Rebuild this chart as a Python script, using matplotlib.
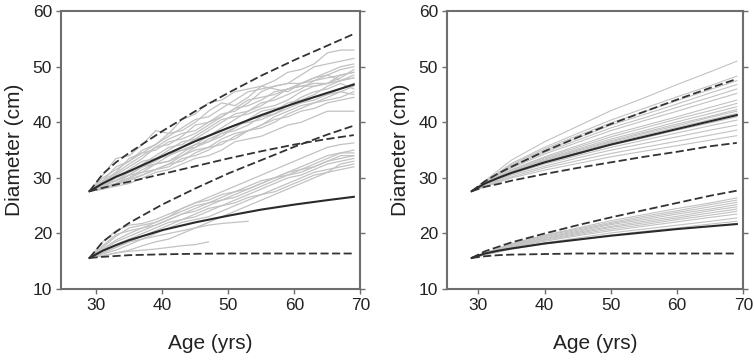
import numpy as np
import matplotlib
matplotlib.use("Agg")
import matplotlib.pyplot as plt

plt.rcParams['font.family'] = ['Liberation Sans', 'DejaVu Sans']

# ---- left panel: observed trajectories (jagged), ages every 2 yrs ----
ages_obs = [29, 31, 33, 35, 37, 39, 41, 43, 45, 47, 49, 51, 53, 55, 57, 59, 61, 63, 65, 67, 69]

upper_obs = [
    [27.6, 30.5, 33.5, 34.0, 36.0, 38.5, 38.0, 40.5, 41.5, 43.5, 44.0, 45.5, 46.0, 46.5, 47.5, 49.0, 49.5, 50.5, 52.5, 53.0, 53.0],
    [27.6, 29.5, 31.0, 33.5, 34.5, 36.0, 37.5, 39.0, 40.5, 41.0, 42.5, 44.0, 45.5, 46.0, 46.5, 47.0, 48.5, 50.0, 50.5, 51.0, 51.5],
    [27.6, 29.0, 30.5, 32.0, 33.5, 35.5, 36.0, 37.5, 39.5, 40.0, 41.5, 42.0, 43.5, 45.5, 46.5, 47.0, 47.0, 48.0, 49.0, 50.0, 50.5],
    [27.6, 28.5, 30.0, 31.5, 33.0, 33.5, 35.0, 36.5, 37.0, 38.5, 40.0, 41.5, 42.0, 43.0, 44.5, 46.0, 47.0, 47.5, 48.5, 49.5, 50.0],
    [27.6, 28.8, 29.5, 30.5, 32.0, 33.5, 34.0, 35.5, 37.0, 37.5, 39.0, 40.5, 42.0, 43.5, 44.0, 45.0, 46.0, 47.5, 48.0, 48.5, 49.0],
    [27.6, 29.0, 30.0, 31.0, 32.5, 34.0, 35.5, 36.0, 37.5, 39.0, 40.5, 41.0, 41.5, 42.5, 43.0, 44.0, 45.5, 46.5, 47.0, 47.5, 48.5],
    [27.6, 28.2, 29.0, 30.0, 31.5, 32.5, 33.0, 34.5, 36.0, 36.5, 37.5, 39.0, 40.5, 41.0, 42.0, 43.5, 44.0, 45.0, 46.5, 47.5, 48.0],
    [27.6, 28.5, 29.5, 31.0, 32.0, 32.5, 34.0, 35.0, 35.5, 36.5, 38.0, 38.5, 39.5, 41.0, 41.5, 42.5, 43.5, 44.0, 45.0, 46.0, 47.0],
    [27.6, 28.0, 28.8, 29.5, 30.5, 31.5, 32.5, 33.0, 34.5, 35.5, 36.0, 37.5, 38.5, 39.0, 40.0, 41.5, 42.5, 43.5, 44.0, 44.5, 45.5],
    [27.6, 28.3, 29.0, 30.0, 31.0, 31.5, 32.5, 34.0, 35.0, 35.5, 37.0, 38.0, 38.5, 39.5, 40.5, 41.0, 42.0, 42.5, 43.5, 44.0, 44.5],
    [27.6, 28.0, 28.5, 29.0, 30.0, 31.0, 31.5, 32.5, 33.5, 34.0, 35.0, 36.5, 37.0, 37.5, 38.5, 39.5, 40.0, 41.0, 42.0, 42.0, 42.0],
    [27.6, 29.5, 32.0, 33.0, 34.5, 35.0, 36.5, 37.0, 38.0, 39.5, 41.0, 42.5, 43.0, 44.0, 45.5, 46.0, 46.5, 47.0, 47.0, 48.0, 49.5],
    [27.6, 28.5, 29.5, 30.5, 31.0, 32.5, 33.0, 34.0, 35.5, 37.0, 38.0, 39.0, 40.5, 42.0, 42.5, 43.0, 44.5, 45.5, 46.0, 47.0, 46.0],
    [27.6, 28.0, 29.0, 30.5, 32.0, 33.0, 34.5, 35.0, 36.0, 37.5, 38.5, 39.5, 40.0, 40.5, 41.5, 43.0, 43.5, 44.5, 45.0, 45.5, 45.0],
    [27.6, 30.0, 31.5, 33.0, 35.0, 36.0, 38.0, 38.5, 40.0, 42.0, 43.5, 43.0, 44.5, 46.5, 46.0, 45.5, 47.0, 48.0, 48.5, 47.5, 48.0],
    [27.6, 28.2, 28.8, 29.8, 30.5, 31.5, 32.0, 33.5, 34.0, 35.0, 36.5, 37.0, 38.5, 39.5, 41.0, 42.0, 43.0, 43.5, 44.5, 45.5, 46.5],
    [27.6, 29.2, 30.8, 32.5, 34.0, 35.5, 37.0, 38.0, 38.5, 40.0, 41.0, 42.5, 44.0, 44.5, 45.0, 46.0, 46.5, 46.5, 47.0, 48.5, 49.0],
]

nan = np.nan
lower_obs = [
    [15.6, 18.5, 20.5, 21.5, 21.8, 22.5, 23.5, 24.5, 25.5, 26.0, 27.0, 27.5, 28.0, 29.0, 30.0, 30.5, 31.5, 32.5, 33.5, 34.5, 35.0],
    [15.6, 17.5, 19.5, 21.0, 21.5, 22.0, 23.0, 24.0, 25.0, 25.5, 26.5, 27.5, 28.5, 29.5, 30.0, 31.0, 32.0, 33.0, 34.0, 34.5, 34.5],
    [15.6, 17.0, 18.5, 19.5, 20.5, 21.5, 22.5, 23.5, 24.0, 25.0, 26.0, 26.5, 27.5, 28.5, 29.5, 30.5, 31.0, 32.0, 33.0, 34.0, 34.0],
    [15.6, 16.5, 17.5, 18.5, 19.5, 20.5, 21.5, 22.5, 23.5, 24.5, 25.0, 26.0, 27.0, 28.0, 29.0, 30.0, 30.5, 31.5, 32.5, 33.0, 33.5],
    [15.6, 16.8, 18.0, 19.0, 20.0, 21.0, 22.0, 22.5, 23.0, 24.0, 25.0, 25.5, 26.5, 27.0, 28.0, 29.0, 30.0, 31.0, 31.5, 32.0, 32.5],
    [15.6, 16.3, 17.0, 18.0, 19.0, 20.0, 21.0, 22.0, 22.5, 23.0, 24.0, 25.0, 26.0, 27.0, 27.5, 28.5, 29.5, 30.5, 31.0, 31.5, 32.0],
    [15.6, 17.2, 18.8, 20.0, 21.0, 22.0, 23.0, 24.5, 25.5, 26.5, 27.5, 28.5, 29.5, 30.5, 31.5, 32.5, 33.5, 34.5, 35.5, 36.0, 36.3],
    [15.6, 16.0, 16.5, 17.0, 17.8, 18.5, 19.0, 20.0, 21.0, 22.0, 23.0, 24.0, 25.0, 26.0, 27.0, 28.0, 29.0, 30.0, 31.0, 32.5, 33.0],
    [15.6, 16.0, 16.5, 16.8, 17.0, 17.2, 17.5, 17.8, 18.0, 18.5, nan, nan, nan, nan, nan, nan, nan, nan, nan, nan, nan],
    [15.6, 16.5, 17.5, 18.5, 19.0, 19.5, 20.0, 20.5, 21.0, 21.5, 21.8, 22.0, 22.2, nan, nan, nan, nan, nan, nan, nan, nan],
    [15.6, 17.8, 19.8, 20.5, 21.0, 21.5, 22.5, 23.5, 24.5, 25.5, 26.0, 27.0, 28.0, 29.0, 30.0, 31.0, 31.5, 32.0, 33.0, 33.5, 34.0],
]

# ---- model curves (mean and bounds) ----
ages_fit = [29, 31, 33, 35, 40, 45, 50, 55, 60, 65, 69]

left_up_mean = [27.6, 29.0, 30.2, 31.2, 33.9, 36.6, 39.0, 41.3, 43.4, 45.3, 46.8]
left_up_hi = [27.6, 30.7, 32.8, 34.5, 38.4, 42.0, 45.3, 48.4, 51.2, 53.8, 55.9]
left_up_lo = [27.6, 28.2, 28.8, 29.3, 30.7, 32.1, 33.5, 34.8, 36.0, 37.0, 37.7]
left_lo_mean = [15.6, 16.9, 17.9, 18.8, 20.6, 22.0, 23.2, 24.3, 25.2, 26.0, 26.6]
left_lo_hi = [15.6, 18.5, 20.3, 21.9, 25.2, 28.1, 30.8, 33.2, 35.6, 37.8, 39.4]
left_lo_lo = [15.6, 15.8, 15.95, 16.1, 16.25, 16.35, 16.4, 16.4, 16.4, 16.4, 16.4]

right_up_mean = [27.6, 29.0, 30.0, 30.9, 32.8, 34.4, 36.0, 37.4, 38.8, 40.2, 41.3]
right_up_hi = [27.6, 29.4, 30.8, 32.0, 34.8, 37.3, 39.7, 41.9, 44.1, 46.2, 47.8]
right_up_lo = [27.6, 28.4, 28.9, 29.5, 30.7, 31.8, 32.8, 33.8, 34.7, 35.7, 36.3]
right_lo_mean = [15.6, 16.4, 16.9, 17.3, 18.2, 18.9, 19.6, 20.2, 20.8, 21.3, 21.7]
right_lo_hi = [15.6, 16.8, 17.6, 18.4, 20.0, 21.5, 22.9, 24.2, 25.5, 26.8, 27.7]
right_lo_lo = [15.6, 15.9, 16.1, 16.2, 16.3, 16.4, 16.4, 16.4, 16.4, 16.4, 16.4]

# ---- right panel: simulated trajectories (smooth) ----
ages_sim = [29, 35, 40, 45, 50, 55, 60, 65, 69]

upper_sim = [
    [27.6, 33.2, 36.5, 39.3, 42.1, 44.4, 46.8, 49.1, 51.0],
    [27.6, 32.6, 35.5, 38.0, 40.4, 42.5, 44.6, 46.6, 48.3],
    [27.6, 32.4, 35.2, 37.6, 39.9, 41.9, 43.9, 45.9, 47.5],
    [27.6, 32.2, 34.9, 37.2, 39.5, 41.4, 43.3, 45.3, 46.8],
    [27.6, 32.0, 34.6, 36.8, 39.0, 40.8, 42.7, 44.5, 46.0],
    [27.6, 31.8, 34.3, 36.4, 38.5, 40.3, 42.0, 43.8, 45.2],
    [27.6, 31.5, 33.8, 35.8, 37.8, 39.4, 41.0, 42.7, 44.0],
    [27.6, 31.4, 33.6, 35.5, 37.4, 39.0, 40.6, 42.1, 43.4],
    [27.6, 31.2, 33.4, 35.2, 37.0, 38.5, 40.1, 41.6, 42.8],
    [27.6, 31.1, 33.2, 35.0, 36.7, 38.2, 39.7, 41.1, 42.3],
    [27.6, 31.1, 33.1, 34.8, 36.5, 38.0, 39.4, 40.9, 42.0],
    [27.6, 31.0, 32.9, 34.6, 36.3, 37.7, 39.1, 40.5, 41.6],
    [27.6, 30.8, 32.7, 34.3, 35.9, 37.2, 38.6, 39.9, 41.0],
    [27.6, 30.7, 32.5, 34.0, 35.5, 36.8, 38.1, 39.4, 40.4],
    [27.6, 30.5, 32.1, 33.6, 35.0, 36.2, 37.4, 38.6, 39.5],
    [27.6, 30.2, 31.8, 33.1, 34.4, 35.5, 36.6, 37.7, 38.6],
    [27.6, 30.0, 31.4, 32.6, 33.8, 34.8, 35.8, 36.8, 37.6],
]

lower_sim = [
    [15.6, 18.2, 19.7, 21.0, 22.3, 23.4, 24.5, 25.5, 26.4],
    [15.6, 18.1, 19.6, 20.8, 22.0, 23.1, 24.1, 25.2, 26.0],
    [15.6, 18.0, 19.4, 20.6, 21.8, 22.8, 23.8, 24.8, 25.6],
    [15.6, 17.9, 19.2, 20.4, 21.6, 22.5, 23.5, 24.4, 25.2],
    [15.6, 17.8, 19.1, 20.2, 21.3, 22.2, 23.1, 24.1, 24.8],
    [15.6, 17.7, 18.9, 20.0, 21.1, 21.9, 22.8, 23.7, 24.4],
    [15.6, 17.6, 18.8, 19.8, 20.8, 21.6, 22.5, 23.3, 24.0],
    [15.6, 17.5, 18.6, 19.6, 20.5, 21.3, 22.1, 22.9, 23.5],
    [15.6, 17.3, 18.3, 19.2, 20.1, 20.8, 21.5, 22.2, 22.8],
    [15.6, 17.2, 18.1, 18.9, 19.7, 20.4, 21.0, 21.7, 22.2],
]

gray = '#c2c2c2'
dark = '#2a2a2a'
spine_col = '#6e6e6e'
dash = (4.5, 1.9)

fig = plt.figure(figsize=(7.54, 3.60), dpi=100)
ax1 = fig.add_axes([0.081, 0.197, 0.397, 0.772])
ax2 = fig.add_axes([0.593, 0.197, 0.393, 0.772])


def draw_panel(ax, ages, obs_sets, lw_obs, curves, xlim):
    for group in obs_sets:
        for y in group:
            ax.plot(ages, y, color=gray, lw=lw_obs, zorder=1)
    for mean, hi, lo in curves:
        ax.plot(ages_fit, mean, color=dark, lw=1.5, zorder=3)
        ax.plot(ages_fit, hi, color='#333333', lw=1.3, dashes=dash, zorder=3)
        ax.plot(ages_fit, lo, color='#333333', lw=1.3, dashes=dash, zorder=3)

    ax.set_xlim(*xlim)
    ax.set_ylim(10, 60)
    ax.set_xticks([30, 40, 50, 60, 70])
    ax.set_yticks([10, 20, 30, 40, 50, 60])
    for s in ax.spines.values():
        s.set_color(spine_col)
        s.set_linewidth(1.5)
    ax.tick_params(direction='out', length=3.5, width=1, color=spine_col,
                   labelsize=12.5, labelcolor='#222222', pad=3,
                   right=True, top=False)
    ax.set_xlabel('Age (yrs)', fontsize=15, color='#222222', labelpad=15)
    ax.set_ylabel('Diameter (cm)', fontsize=15, color='#222222', labelpad=6)


draw_panel(ax1, ages_obs, [upper_obs, lower_obs], 0.9,
           [(left_up_mean, left_up_hi, left_up_lo),
            (left_lo_mean, left_lo_hi, left_lo_lo)], (24.7, 70))
draw_panel(ax2, ages_sim, [upper_sim, lower_sim], 0.8,
           [(right_up_mean, right_up_hi, right_up_lo),
            (right_lo_mean, right_lo_hi, right_lo_lo)], (25.3, 70))

fig.savefig('out.png', dpi=100)
